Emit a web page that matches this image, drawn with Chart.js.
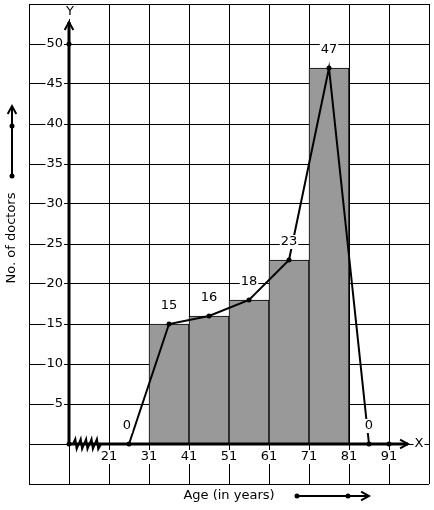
<!DOCTYPE html>
<html>
<head>
<meta charset="utf-8">
<script src="https://cdn.jsdelivr.net/npm/chart.js@4.4.1/dist/chart.umd.min.js"></script>
<style>
body { margin: 0; background: #fff; }
</style>
</head>
<body>
<canvas id="chart" width="434" height="510"></canvas>
<script>
// frequency polygon points (class marks) and histogram bars
var classMarks = [26, 36, 46, 56, 66, 76, 86];
var doctors = [0, 15, 16, 18, 23, 47, 0];
var barMids = [36, 46, 56, 66, 76];
var barCounts = [15, 16, 18, 23, 47];
var xTicks = [1, 11, 21, 31, 41, 51, 61, 71, 81, 91, 101];
var xTickLabels = ['', '', '21', '31', '41', '51', '61', '71', '81', '91', ''];
var yTicks = [-5, 0, 5, 10, 15, 20, 25, 30, 35, 40, 45, 50, 55];
var yTickLabels = ['', '', '5', '10', '15', '20', '25', '30', '35', '40', '45', '50', ''];

function arrowHead(ctx, x, y, dx, dy) {
	// open arrow head pointing along (dx, dy)
	var len = 9, a = Math.atan2(dy, dx);
	ctx.beginPath();
	ctx.moveTo(x - len * Math.cos(a - 0.5), y - len * Math.sin(a - 0.5));
	ctx.lineTo(x, y);
	ctx.lineTo(x - len * Math.cos(a + 0.5), y - len * Math.sin(a + 0.5));
	ctx.stroke();
}

function dot(ctx, x, y) {
	ctx.beginPath();
	ctx.arc(x, y, 2.5, 0, Math.PI * 2);
	ctx.fill();
}

function boxedText(ctx, txt, x, y, align) {
	var w = ctx.measureText(txt).width;
	var left = align === 'right' ? x - w : x - w / 2;
	ctx.fillStyle = '#fff';
	ctx.fillRect(left - 1, y - 7, w + 2, 14);
	ctx.fillStyle = '#000';
	ctx.textAlign = align || 'center';
	ctx.fillText(txt, x, y);
	ctx.textAlign = 'center';
}

var tickText = {
	id: 'tickText',
	beforeDatasetsDraw: function (chart) {
		var ctx = chart.ctx;
		var xs = chart.scales.x, ys = chart.scales.y;
		var x0 = xs.getPixelForValue(11), y0 = ys.getPixelForValue(0);
		ctx.save();
		ctx.font = '13px "DejaVu Sans"';
		ctx.textBaseline = 'middle';
		xTicks.forEach(function (v, i) {
			if (xTickLabels[i]) boxedText(ctx, xTickLabels[i], xs.getPixelForValue(v), y0 + 13);
		});
		yTicks.forEach(function (v, i) {
			if (yTickLabels[i]) boxedText(ctx, yTickLabels[i], x0 - 6, ys.getPixelForValue(v), 'right');
		});
		ctx.restore();
	}
};

var decor = {
	id: 'decor',
	afterDatasetsDraw: function (chart) {
		var ctx = chart.ctx, area = chart.chartArea;
		var xs = chart.scales.x, ys = chart.scales.y;
		var x0 = xs.getPixelForValue(11), y0 = ys.getPixelForValue(0);
		ctx.save();
		ctx.strokeStyle = '#000';
		ctx.fillStyle = '#000';
		ctx.font = '13px "DejaVu Sans"';
		ctx.textAlign = 'center';
		ctx.textBaseline = 'middle';

		// axes
		var yTop = area.top + 18, xEnd = area.right - 21;
		ctx.lineWidth = 3;
		ctx.beginPath();
		ctx.moveTo(x0, y0);
		ctx.lineTo(x0, yTop);
		ctx.moveTo(x0, y0);
		ctx.lineTo(xEnd, y0);
		ctx.stroke();
		ctx.lineWidth = 2;
		arrowHead(ctx, x0, yTop, 0, -1);
		arrowHead(ctx, xEnd, y0, 1, 0);
		boxedText(ctx, 'Y', x0 + 1, area.top + 8);
		boxedText(ctx, 'X', area.right - 10, y0);

		// axis break
		ctx.lineWidth = 2;
		ctx.beginPath();
		ctx.moveTo(x0 + 4, y0);
		for (var i = 0; i < 5; i++) {
			var bx = x0 + 5 + i * 5.4;
			ctx.lineTo(bx + 1.3, y0 - 5);
			ctx.lineTo(bx + 2.7, y0 + 5);
		}
		ctx.lineTo(x0 + 32, y0);
		ctx.stroke();

		dot(ctx, x0, y0);
		dot(ctx, x0, ys.getPixelForValue(50));
		dot(ctx, xs.getPixelForValue(91), y0);

		// point labels
		var meta = chart.getDatasetMeta(0);
		meta.data.forEach(function (pt, i) {
			boxedText(ctx, String(doctors[i]), pt.x - (i === 0 ? 2 : 0), pt.y - 18);
		});

		// axis titles
		ctx.fillStyle = '#000';
		var ty = area.bottom + 12;
		ctx.fillText('Age (in years)', 229, ty);
		ctx.lineWidth = 2;
		ctx.beginPath();
		ctx.moveTo(297, ty);
		ctx.lineTo(369, ty);
		ctx.stroke();
		arrowHead(ctx, 369, ty, 1, 0);
		dot(ctx, 297, ty);
		dot(ctx, 348, ty);

		ctx.save();
		ctx.translate(12, 238);
		ctx.rotate(-Math.PI / 2);
		ctx.fillText('No. of doctors', 0, 0);
		ctx.restore();
		ctx.beginPath();
		ctx.moveTo(12, 176);
		ctx.lineTo(12, 106);
		ctx.stroke();
		arrowHead(ctx, 12, 106, 0, -1);
		dot(ctx, 12, 176);
		dot(ctx, 12, 126);
		ctx.restore();
	}
};

var chart = new Chart(document.getElementById('chart'), {
	type: 'bar',
	data: {
		datasets: [{
			type: 'line',
			data: classMarks.map(function (x, i) { return { x: x, y: doctors[i] }; }),
			borderColor: '#000',
			borderWidth: 2,
			pointRadius: 2.5,
			pointBorderWidth: 0,
			pointBackgroundColor: '#000',
			tension: 0,
			order: 0
		}, {
			type: 'bar',
			data: barMids.map(function (x, i) { return { x: x, y: barCounts[i] }; }),
			backgroundColor: '#999999',
			borderColor: '#000',
			borderWidth: 1,
			barPercentage: 1,
			categoryPercentage: 1,
			order: 1
		}]
	},
	options: {
		responsive: false,
		animation: false,
		layout: { padding: { left: 29, top: 4, right: 5, bottom: 26 } },
		plugins: { legend: { display: false }, tooltip: { enabled: false } },
		scales: {
			x: {
				type: 'linear',
				min: 1,
				max: 101,
				offset: false,
				afterBuildTicks: function (s) { s.ticks = xTicks.map(function (v) { return { value: v }; }); },
				grid: { color: '#000', lineWidth: 1, drawTicks: false, offset: false },
				border: { display: false },
				ticks: { display: false }
			},
			y: {
				type: 'linear',
				min: -5,
				max: 55,
				afterBuildTicks: function (s) { s.ticks = yTicks.map(function (v) { return { value: v }; }); },
				grid: { color: '#000', lineWidth: 1, drawTicks: false },
				border: { display: false },
				ticks: { display: false }
			}
		}
	},
	plugins: [tickText, decor]
});
</script>
</body>
</html>
